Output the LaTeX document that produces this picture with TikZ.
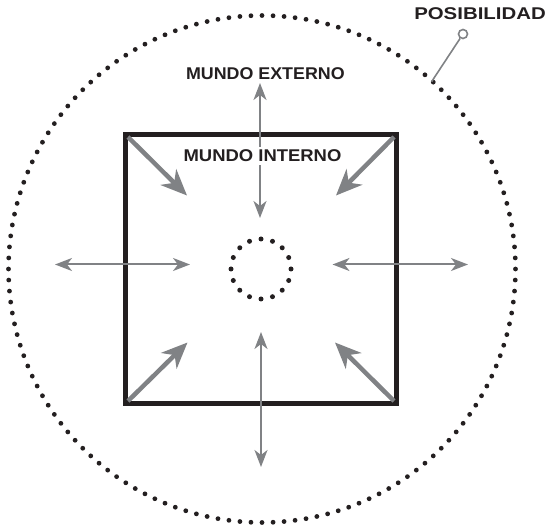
\documentclass[tikz,border=0pt]{standalone}
\usepackage{fontspec}
\setmainfont{Liberation Sans}
\usetikzlibrary{arrows.meta}
\definecolor{arrowgray}{RGB}{128,130,133}
\definecolor{inkblack}{RGB}{35,31,32}
\tikzset{
  lbl/.style={font=\fontsize{17}{20}\selectfont\bfseries, text=inkblack, inner sep=0pt, anchor=base},
  thinarrow/.style={draw=arrowgray, line width=2pt, {Stealth[length=17pt,width=13pt,inset=5pt]}-{Stealth[length=17pt,width=13pt,inset=5pt]}},
  thickarrow/.style={draw=arrowgray, line width=4.5pt, -{Stealth[length=26pt,width=22pt,inset=8pt]}},
  dotfill/.style={fill=inkblack},
  box/.style={draw=inkblack, line width=4.5pt}
}
\begin{document}
\begin{tikzpicture}[x=1pt,y=-1pt]
\useasboundingbox (0,0) rectangle (549,526);
% outer dotted circle
\coordinate (oc) at (262,269);
\foreach \a in {0,2.5,...,357.5} \fill[dotfill] (oc) ++(\a:253.5) circle (2.4);
% inner dotted circle
\coordinate (ic) at (261,269);
\foreach \a in {0,22.5,...,337.5} \fill[dotfill] (ic) ++(\a:30) circle (2.5);
% square
\coordinate (tl) at (125.5,134.5);
\coordinate (br) at (396.5,403.5);
\draw[box] (tl) rectangle (br);
% arrow end points
\coordinate (up1) at (260,83);
\coordinate (up2) at (260,218);
\coordinate (dn1) at (261,332);
\coordinate (dn2) at (261,467);
\coordinate (lf1) at (55,264.5);
\coordinate (lf2) at (190,264.5);
\coordinate (rt1) at (332.5,264.5);
\coordinate (rt2) at (468,264.5);
\draw[thinarrow] (up1) -- (up2);
\draw[thinarrow] (dn1) -- (dn2);
\draw[thinarrow] (lf1) -- (lf2);
\draw[thinarrow] (rt1) -- (rt2);
% diagonal arrows
\coordinate (c1) at (128,137);
\coordinate (t1) at (187,195.5);
\coordinate (c2) at (394,137);
\coordinate (t2) at (336,195.5);
\coordinate (c3) at (128,401);
\coordinate (t3) at (187.5,342.5);
\coordinate (c4) at (394,401);
\coordinate (t4) at (335,342.5);
\draw[thickarrow] (c1) -- (t1);
\draw[thickarrow] (c2) -- (t2);
\draw[thickarrow] (c3) -- (t3);
\draw[thickarrow] (c4) -- (t4);
% labels
\node[lbl, xscale=1.05] (ext) at (265.4,79.3) {MUNDO EXTERNO};
\node[lbl, xscale=1.085, fill=white, inner xsep=1pt, inner ysep=3pt] (int) at (262.5,161.7) {MUNDO INTERNO};
\node[lbl, xscale=1.2] (pos) at (480,19.3) {POSIBILIDAD};
% pin
\node[circle, draw=arrowgray, line width=1.6pt, fill=white, minimum size=9pt, inner sep=0pt] (pin) at (463,34) {};
\coordinate (pinend) at (431.6,81.7);
\draw[arrowgray, line width=1.6pt] (pin) -- (pinend);
\end{tikzpicture}
\end{document}
